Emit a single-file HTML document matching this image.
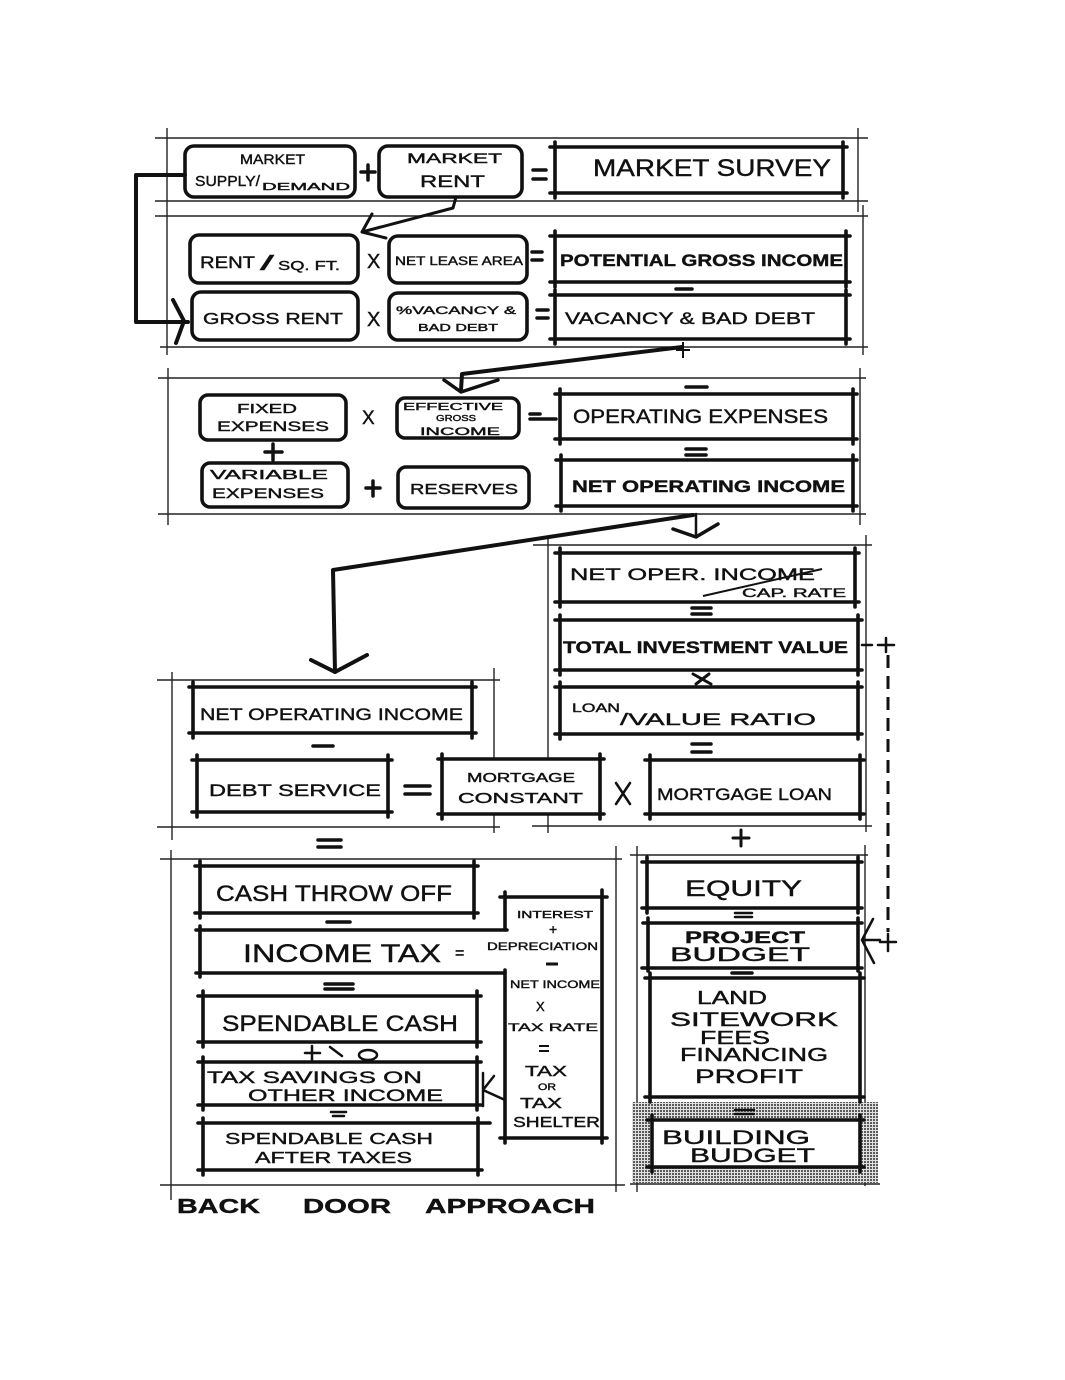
<!DOCTYPE html>
<html><head><meta charset="utf-8"><style>
html,body{margin:0;padding:0;background:#fff;}
svg{display:block;}
text{font-family:"Liberation Sans",sans-serif;fill:#111;stroke:#111;stroke-width:0.4;}
.b{font-weight:bold;}
</style></head><body>
<svg width="1065" height="1380" viewBox="0 0 1065 1380" xmlns="http://www.w3.org/2000/svg">
<defs>
<pattern id="dots" width="3" height="3" patternUnits="userSpaceOnUse">
<rect width="3" height="3" fill="#e0e0e0"/><rect width="2" height="2" fill="#5a5a5a"/>
</pattern>
</defs>
<rect width="1065" height="1380" fill="#fff"/>

<!-- thin frame lines -->
<g stroke="#222" stroke-width="1.4" fill="none">
<path d="M155 138H868M155 201H868M167 128V355M858 128V212"/>
<path d="M155 216H868M160 347H868M863 205V355"/>
<path d="M158 378H866M158 514H866M168 368V525M860 368V525"/>
<path d="M157 680H500M157 827H500M172 672V840M494 668V833"/>
<path d="M533 545H872M532 826H872M548 538V833M866 535V832"/>
<path d="M160 859H622M160 1185H625M171 850V1200M616 846V1192"/>
<path d="M630 855H868M630 1184H880M637 846V1192M865 845V1186"/>
</g>

<!-- shaded area -->
<rect x="632" y="1102" width="246" height="81" fill="url(#dots)"/>
<rect x="652" y="1120" width="208" height="47" fill="#fff"/>
<!-- white fill for mortgage constant -->
<rect x="442" y="759" width="158" height="55" fill="#fff"/>

<!-- rounded boxes -->
<g stroke="#111" stroke-width="3.6" fill="none">
<rect x="185" y="146" width="170" height="51" rx="9"/>
<rect x="379" y="146" width="143" height="51" rx="9"/>
<rect x="190" y="235" width="168" height="48" rx="9"/>
<rect x="389" y="236" width="138" height="47" rx="9"/>
<rect x="192" y="292" width="166" height="48" rx="9"/>
<rect x="389" y="293" width="138" height="47" rx="9"/>
<rect x="200" y="395" width="146" height="45" rx="8"/>
<rect x="397" y="398" width="122" height="40" rx="8"/>
<rect x="202" y="463" width="146" height="44" rx="8"/>
<rect x="398" y="467" width="131" height="41" rx="8"/>
</g>

<!-- heavy boxes -->
<g stroke="#111" stroke-width="3.6" fill="none" stroke-linecap="round">
<path d="M550 147H847M550 193H847M555 142V198M843 142V198"/>
<path d="M550 236H850M550 282H850M555 231V287M846 231V287"/>
<path d="M550 295H850M550 339H850M555 290V344M846 290V344"/>
<path d="M555 394H857M555 439H857M560 389V444M853 389V444"/>
<path d="M556 460H857M556 506H857M561 455V511M853 455V511"/>
<path d="M555 553H859M555 602H859M560 548V607M855 548V607"/>
<path d="M555 620H862M555 670H862M560 615V675M858 615V675"/>
<path d="M555 687H862M555 734H862M560 682V739M858 682V739"/>
<path d="M645 760H864M645 814H864M650 755V819M860 755V819"/>
<path d="M438 759H604M438 814H604M442 754V819M600 754V819"/>
<path d="M189 687H476M189 733H476M193 682V738M472 682V738"/>
<path d="M192 760H392M192 812H392M197 755V817M388 755V817"/>
<path d="M195 866H478M195 913H478M200 861V918M474 861V918"/>
<path d="M196 930H507M196 973H505M200 926V977"/>
<path d="M500 897H607M500 1138H607M505 892V930M505 970V1143M602 890V1143"/>
<path d="M198 996H481M198 1042H481M203 991V1047M477 991V1047"/>
<path d="M198 1062H481M198 1105H481M203 1057V1110M477 1057V1110"/>
<path d="M198 1123H490M198 1170H482M203 1118V1175M478 1118V1175"/>
<path d="M642 862H862M642 908H862M647 857V913M858 857V913"/>
<path d="M643 923H862M642 968H862M648 918V971M858 918V971"/>
<path d="M645 978H864M645 1097H864M650 973V1102M860 973V1102"/>
<path d="M647 1120H864M647 1167H864M652 1115V1172M860 1115V1172"/>
</g>

<!-- connectors -->
<g stroke="#111" stroke-width="4" fill="none" stroke-linecap="round" stroke-linejoin="round">
<path d="M185 175H136V322H188"/>
<path d="M173 300L184 321L176 343"/>
<path d="M456 197L453 208L362 232" stroke-width="3"/>
<path d="M372 214L362 232L386 238" stroke-width="3"/>
<path d="M682 347L462 374L461 390"/>
<path d="M444 380L461 392L498 380" stroke-width="3.5"/>
<path d="M696 514V537" stroke-width="2.5"/>
<path d="M673 529L696 537L718 524" stroke-width="3.5"/>
<path d="M693 515L333 570L335 672"/>
<path d="M311 660L335 672L367 655"/>
<path d="M862 645H872M878 645H894M886 638V652M880 942H896M888 934V951" stroke-width="2.5"/>
<path d="M888 655V932" stroke-width="3" stroke-dasharray="13 8" stroke-linecap="butt"/>
<path d="M873 919L862 940L874 963M862 940H880" stroke-width="2.5"/>
<path d="M483 1073V1106M483 1090L494 1076M483 1090L505 1100" stroke-width="2.5"/>
</g>
<path d="M683 342V358M676 350H690" stroke="#111" stroke-width="2" fill="none"/>

<!-- operators -->
<g stroke="#111" stroke-width="3.5" fill="none" stroke-linecap="round">
<path d="M361 172H375M368 165V180"/>
<path d="M533 170H546M533 179H546"/>
<path d="M532 252H542M532 260H542"/>
<path d="M676 289H692"/>
<path d="M537 310H548M537 318H548"/>
<path d="M686 387H707"/>
<path d="M530 414H540M530 419H556"/>
<path d="M265 452H282M273 444V460"/>
<path d="M686 449H706M686 455H706"/>
<path d="M366 488H380M373 481V496"/>
<path d="M692 608H711M692 614H711"/>
<path d="M693 674L711 684M696 684L709 674" stroke-width="3"/>
<path d="M692 744H711M692 752H711"/>
<path d="M616 783L630 804M630 783L616 804" stroke-width="2.5"/>
<path d="M405 786H430M405 794H430"/>
<path d="M313 746H333"/>
<path d="M318 840H341M318 847H341"/>
<path d="M741 830V846M733 838H749" stroke-width="3"/>
<path d="M327 922H350"/>
<path d="M325 984H353M325 989H353"/>
<path d="M305 1053H320M312 1046V1060M330 1047L342 1056" stroke-width="2.5"/>
<ellipse cx="368" cy="1055" rx="9" ry="5" stroke-width="2.5"/>
<path d="M331 1112H346M333 1116H344" stroke-width="2.5"/>
<path d="M735 913H752M735 917H752" stroke-width="2.5"/>
<path d="M732 973H752"/>
<path d="M735 1110H754M735 1114H754" stroke-width="2.5"/>
</g>

<!-- texts -->
<text x="240" y="164" font-size="14" textLength="65" lengthAdjust="spacingAndGlyphs">MARKET</text>
<text x="195" y="186" font-size="15" textLength="65" lengthAdjust="spacingAndGlyphs">SUPPLY/</text>
<text x="262" y="190" font-size="10" textLength="88" lengthAdjust="spacingAndGlyphs">DEMAND</text>
<text x="407" y="163" font-size="14" textLength="95" lengthAdjust="spacingAndGlyphs">MARKET</text>
<text x="420" y="187" font-size="17" textLength="65" lengthAdjust="spacingAndGlyphs">RENT</text>
<text x="593" y="176" font-size="24" textLength="238" lengthAdjust="spacingAndGlyphs">MARKET SURVEY</text>

<text x="200" y="268" font-size="17" textLength="55" lengthAdjust="spacingAndGlyphs">RENT</text>
<text x="260" y="270" font-size="20" textLength="14" lengthAdjust="spacingAndGlyphs">/</text>
<text x="278" y="270" font-size="13" textLength="62" lengthAdjust="spacingAndGlyphs">SQ. FT.</text>
<text x="395" y="265" font-size="12" textLength="128" lengthAdjust="spacingAndGlyphs">NET LEASE AREA</text>
<text x="560" y="266" font-size="17" class="b" textLength="283" lengthAdjust="spacingAndGlyphs">POTENTIAL GROSS INCOME</text>
<text x="367" y="268" font-size="20">X</text>
<text x="203" y="324" font-size="16" textLength="140" lengthAdjust="spacingAndGlyphs">GROSS RENT</text>
<text x="367" y="326" font-size="20">X</text>
<text x="396" y="314" font-size="11" textLength="120" lengthAdjust="spacingAndGlyphs">%VACANCY &amp;</text>
<text x="418" y="331" font-size="10" textLength="80" lengthAdjust="spacingAndGlyphs">BAD DEBT</text>
<text x="565" y="324" font-size="17" textLength="250" lengthAdjust="spacingAndGlyphs">VACANCY &amp; BAD DEBT</text>

<text x="237" y="413" font-size="13" textLength="60" lengthAdjust="spacingAndGlyphs">FIXED</text>
<text x="217" y="431" font-size="14" textLength="112" lengthAdjust="spacingAndGlyphs">EXPENSES</text>
<text x="362" y="424" font-size="19">X</text>
<text x="403" y="410" font-size="10" textLength="100" lengthAdjust="spacingAndGlyphs">EFFECTIVE</text>
<text x="436" y="421" font-size="8" textLength="40" lengthAdjust="spacingAndGlyphs">GROSS</text>
<text x="420" y="435" font-size="11" textLength="80" lengthAdjust="spacingAndGlyphs">INCOME</text>
<text x="573" y="423" font-size="19" textLength="255" lengthAdjust="spacingAndGlyphs">OPERATING EXPENSES</text>
<text x="210" y="479" font-size="13" textLength="118" lengthAdjust="spacingAndGlyphs">VARIABLE</text>
<text x="212" y="498" font-size="14" textLength="112" lengthAdjust="spacingAndGlyphs">EXPENSES</text>
<text x="410" y="494" font-size="15" textLength="108" lengthAdjust="spacingAndGlyphs">RESERVES</text>
<text x="572" y="492" font-size="17" class="b" textLength="273" lengthAdjust="spacingAndGlyphs">NET OPERATING INCOME</text>

<text x="570" y="580" font-size="17" textLength="245" lengthAdjust="spacingAndGlyphs">NET OPER. INCOME</text>
<path d="M703 596L822 569" stroke="#111" stroke-width="2"/>
<text x="742" y="597" font-size="12" textLength="104" lengthAdjust="spacingAndGlyphs">CAP. RATE</text>
<text x="563" y="653" font-size="17" class="b" textLength="285" lengthAdjust="spacingAndGlyphs">TOTAL INVESTMENT VALUE</text>
<text x="572" y="712" font-size="12" textLength="48" lengthAdjust="spacingAndGlyphs">LOAN</text>
<text x="620" y="725" font-size="17" textLength="196" lengthAdjust="spacingAndGlyphs">/VALUE RATIO</text>
<text x="657" y="800" font-size="17" textLength="175" lengthAdjust="spacingAndGlyphs">MORTGAGE LOAN</text>
<text x="467" y="782" font-size="13" textLength="108" lengthAdjust="spacingAndGlyphs">MORTGAGE</text>
<text x="458" y="803" font-size="15" textLength="125" lengthAdjust="spacingAndGlyphs">CONSTANT</text>
<text x="200" y="720" font-size="17" textLength="263" lengthAdjust="spacingAndGlyphs">NET OPERATING INCOME</text>
<text x="209" y="796" font-size="17" textLength="172" lengthAdjust="spacingAndGlyphs">DEBT SERVICE</text>

<text x="216" y="901" font-size="22" textLength="236" lengthAdjust="spacingAndGlyphs">CASH THROW OFF</text>
<text x="243" y="962" font-size="25" textLength="198" lengthAdjust="spacingAndGlyphs">INCOME TAX</text>
<text x="455" y="958" font-size="16">=</text>
<text x="517" y="918" font-size="10" textLength="76" lengthAdjust="spacingAndGlyphs">INTEREST</text>
<text x="549" y="934" font-size="14">+</text>
<text x="487" y="950" font-size="11" textLength="111" lengthAdjust="spacingAndGlyphs">DEPRECIATION</text>
<path d="M546 964H558" stroke="#111" stroke-width="3"/>
<text x="510" y="988" font-size="11" textLength="90" lengthAdjust="spacingAndGlyphs">NET INCOME</text>
<text x="536" y="1011" font-size="13">X</text>
<text x="508" y="1031" font-size="11" textLength="90" lengthAdjust="spacingAndGlyphs">TAX RATE</text>
<path d="M539 1046H549M539 1051H549" stroke="#111" stroke-width="2"/>
<text x="525" y="1076" font-size="15" textLength="42" lengthAdjust="spacingAndGlyphs">TAX</text>
<text x="538" y="1090" font-size="9" textLength="18" lengthAdjust="spacingAndGlyphs">OR</text>
<text x="520" y="1108" font-size="15" textLength="42" lengthAdjust="spacingAndGlyphs">TAX</text>
<text x="513" y="1127" font-size="15" textLength="87" lengthAdjust="spacingAndGlyphs">SHELTER</text>
<text x="222" y="1031" font-size="22" textLength="236" lengthAdjust="spacingAndGlyphs">SPENDABLE CASH</text>
<text x="207" y="1083" font-size="17" textLength="215" lengthAdjust="spacingAndGlyphs">TAX SAVINGS ON</text>
<text x="248" y="1101" font-size="17" textLength="195" lengthAdjust="spacingAndGlyphs">OTHER INCOME</text>
<text x="225" y="1144" font-size="16" textLength="208" lengthAdjust="spacingAndGlyphs">SPENDABLE CASH</text>
<text x="255" y="1163" font-size="16" textLength="157" lengthAdjust="spacingAndGlyphs">AFTER TAXES</text>

<text x="685" y="896" font-size="22" textLength="117" lengthAdjust="spacingAndGlyphs">EQUITY</text>
<text x="685" y="943" font-size="17" class="b" textLength="120" lengthAdjust="spacingAndGlyphs">PROJECT</text>
<text x="670" y="961" font-size="19" textLength="140" lengthAdjust="spacingAndGlyphs">BUDGET</text>
<text x="697" y="1004" font-size="18" textLength="70" lengthAdjust="spacingAndGlyphs">LAND</text>
<text x="670" y="1026" font-size="19" textLength="168" lengthAdjust="spacingAndGlyphs">SITEWORK</text>
<text x="700" y="1044" font-size="18" textLength="70" lengthAdjust="spacingAndGlyphs">FEES</text>
<text x="680" y="1061" font-size="18" textLength="148" lengthAdjust="spacingAndGlyphs">FINANCING</text>
<text x="695" y="1083" font-size="19" textLength="108" lengthAdjust="spacingAndGlyphs">PROFIT</text>
<text x="662" y="1144" font-size="19" textLength="148" lengthAdjust="spacingAndGlyphs">BUILDING</text>
<text x="690" y="1162" font-size="19" textLength="125" lengthAdjust="spacingAndGlyphs">BUDGET</text>

<text x="177" y="1213" font-size="20" class="b" textLength="83" lengthAdjust="spacingAndGlyphs">BACK</text>
<text x="303" y="1213" font-size="20" class="b" textLength="88" lengthAdjust="spacingAndGlyphs">DOOR</text>
<text x="425" y="1213" font-size="20" class="b" textLength="170" lengthAdjust="spacingAndGlyphs">APPROACH</text>
</svg>
</body></html>
